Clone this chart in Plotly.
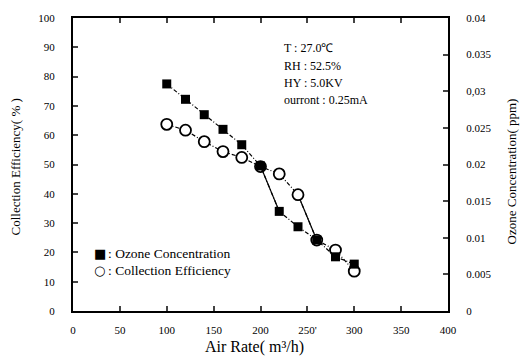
import plotly.graph_objects as go

air_rate = [100, 120, 140, 160, 180, 200, 220, 240, 260, 280, 300]
ozone_ppm = [0.0310, 0.0289, 0.0268, 0.0248, 0.0227, 0.0198, 0.0136, 0.0115, 0.0097, 0.0074, 0.0064]
collection_eff = [63.7, 61.7, 57.8, 54.4, 52.4, 49.3, 46.8, 39.7, 24.2, 20.8, 13.6]

x_ticks = [0, 50, 100, 150, 200, 250, 300, 350, 400]
x_ticktext = ["0", "50", "100", "150", "200", "250'", "300", "350", "400"]
y_ticks = [0, 10, 20, 30, 40, 50, 60, 70, 80, 90, 100]
y2_ticks = [0, 0.005, 0.01, 0.015, 0.02, 0.025, 0.03, 0.035, 0.04]
y2_ticktext = ["0", "0.005", "0.01", "0.015", "0.02", "0.025", "0,03", "0.035", "0.04"]
conditions = ["T : 27.0℃", "RH : 52.5%", "HY : 5.0KV", "ourront : 0.25mA"]
legend_labels = [": Ozone Concentration", ": Collection Efficiency"]

FONT = "Liberation Serif, Times New Roman, serif"
dash = "4px,2px,1px,2px"

# plot area in pixels (for placing text only)
L, R, T, B = 73, 448, 15, 311
def px(xp):
    return (xp - L) / (R - L)
def py(yp):
    return (B - yp) / (B - T)

fig = go.Figure()

fig.add_trace(go.Scatter(x=air_rate, y=collection_eff, mode="lines",
                         line=dict(color="black", width=1.2, dash=dash), showlegend=False))
fig.add_trace(go.Scatter(x=air_rate[7:9], y=collection_eff[7:9], mode="lines",
                         line=dict(color="black", width=1.2), showlegend=False))
fig.add_trace(go.Scatter(x=air_rate, y=ozone_ppm, mode="lines", yaxis="y2",
                         line=dict(color="black", width=1.2, dash=dash), showlegend=False))
fig.add_trace(go.Scatter(x=air_rate[5:7], y=ozone_ppm[5:7], mode="lines", yaxis="y2",
                         line=dict(color="black", width=1.2), showlegend=False))
fig.add_trace(go.Scatter(x=air_rate, y=collection_eff, mode="markers",
                         marker=dict(symbol="circle", size=11, color="white",
                                     line=dict(color="black", width=1.8)), showlegend=False))
fig.add_trace(go.Scatter(x=air_rate, y=ozone_ppm, mode="markers", yaxis="y2",
                         marker=dict(symbol="square", size=9, color="black"), showlegend=False))

fig.update_layout(
    width=524, height=359,
    margin=dict(l=L, r=524 - R, t=T, b=359 - B),
    plot_bgcolor="white", paper_bgcolor="white",
    font=dict(family=FONT, color="black", size=11),
    xaxis=dict(range=[0, 400], tickvals=x_ticks, ticktext=x_ticktext,
               ticks="inside", ticklen=5, tickwidth=1.5, showline=True, linewidth=2,
               linecolor="black", mirror="ticks", showgrid=False, zeroline=False,
               ticklabelstandoff=8),
    yaxis=dict(range=[0, 100], tickvals=y_ticks, ticks="inside", ticklen=5, tickwidth=1.5,
               showline=True, linewidth=2, linecolor="black", showgrid=False, zeroline=False,
               ticklabelstandoff=14),
    yaxis2=dict(range=[0, 0.04], tickvals=y2_ticks, ticktext=y2_ticktext, overlaying="y",
                side="right", ticks="inside", ticklen=5, tickwidth=1.5, showline=True,
                linewidth=2, linecolor="black", showgrid=False, zeroline=False,
                ticklabelstandoff=14),
)

ann = []
for t, ypx in zip(conditions, [45, 63, 81, 98]):
    ann.append(dict(x=px(282), y=py(ypx), xref="paper", yref="paper", text=t,
                    showarrow=False, xanchor="left", yanchor="middle", font=dict(size=12)))
ann += [
    dict(x=px(99.5), y=py(253), xref="paper", yref="paper", text="■", showarrow=False,
         xanchor="center", yanchor="middle", font=dict(size=13, family="DejaVu Sans")),
    dict(x=px(99.5), y=py(270), xref="paper", yref="paper", text="○", showarrow=False,
         xanchor="center", yanchor="middle", font=dict(size=13, family="DejaVu Sans")),
    dict(x=px(106), y=py(253), xref="paper", yref="paper", text=legend_labels[0],
         showarrow=False, xanchor="left", yanchor="middle", font=dict(size=13.5)),
    dict(x=px(106), y=py(270), xref="paper", yref="paper", text=legend_labels[1],
         showarrow=False, xanchor="left", yanchor="middle", font=dict(size=13.5)),
    dict(x=px(15), y=py(166), xref="paper", yref="paper", text="Collection Efficiency( % )",
         showarrow=False, textangle=-90, xanchor="center", yanchor="middle", font=dict(size=13)),
    dict(x=px(511), y=py(170), xref="paper", yref="paper", text="Ozone Concentration( ppm)",
         showarrow=False, textangle=-90, xanchor="center", yanchor="middle", font=dict(size=13)),
    dict(x=px(254), y=py(347), xref="paper", yref="paper", text="Air Rate( m³/h)",
         showarrow=False, xanchor="center", yanchor="middle", font=dict(size=16)),
]
fig.update_layout(annotations=ann)

fig.write_html("out.html")
